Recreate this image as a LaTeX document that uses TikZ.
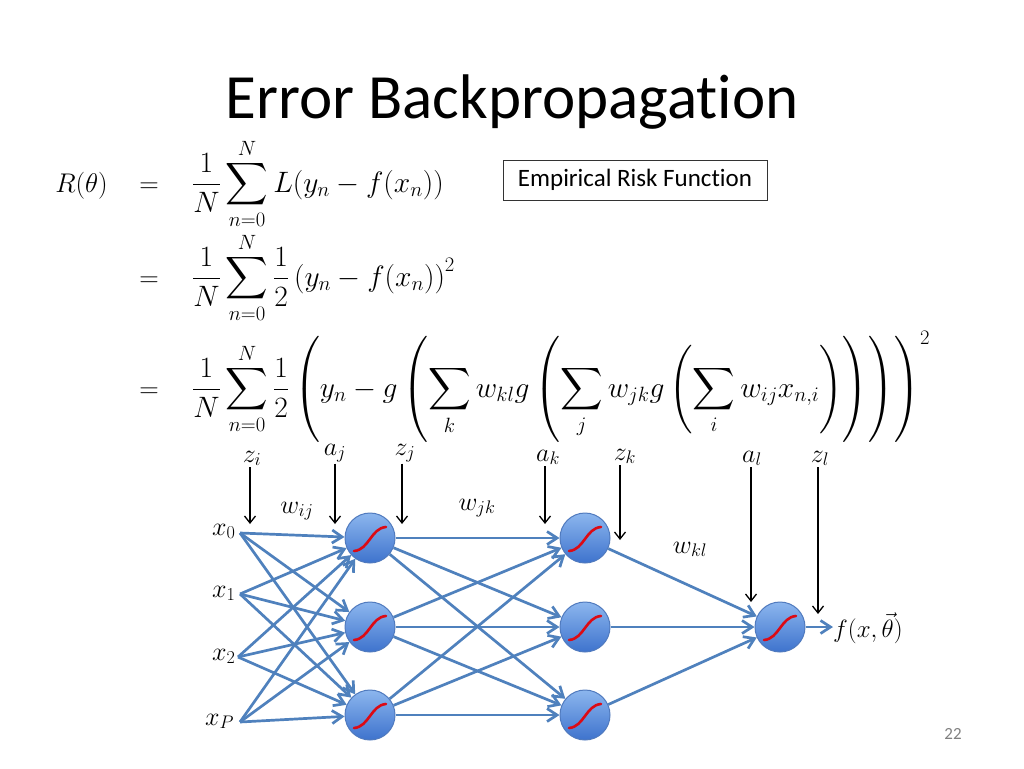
\RequirePackage{fix-cm}
\documentclass[tikz,border=0pt]{standalone}
\usepackage{amsmath}
\usepackage{fontspec}
\newfontfamily\calibri[Ligatures={NoCommon,NoContextual,NoRequired}]{Carlito}
\DeclareFontShape{OMX}{cmex}{m}{n}{<-> cmex10}{}
\usetikzlibrary{arrows.meta,calc}
\definecolor{nnblue}{RGB}{79,129,189}
\definecolor{balltop}{RGB}{140,182,238}
\definecolor{ballbot}{RGB}{62,115,205}
\definecolor{ballline}{RGB}{80,122,190}
\definecolor{sigred}{RGB}{220,10,20}
\tikzset{
  eq/.style={font=\fontsize{27}{32}\selectfont, inner sep=0},
  eqr/.style={font=\fontsize{29.5}{34}\selectfont, inner sep=0},
  lbl/.style={font=\fontsize{26}{30}\selectfont, inner sep=1},
  neuron/.style={circle, minimum size=50, inner sep=0, draw=ballline, line width=1,
    top color=balltop, bottom color=ballbot,
    path picture={\draw[sigred, line width=2.6, line cap=round]
      ($(path picture bounding box.center)+(-16,13)$) .. controls +(15,-1) and +(-15,1) ..
      ($(path picture bounding box.center)+(16,-11)$);}},
  conn/.style={nnblue, line width=2.7, -{Straight Barb[length=10,width=13]}},
  blk/.style={black, line width=1.3, -{Straight Barb[length=7,width=11]}},
}
\begin{document}
\begin{tikzpicture}[x=1pt,y=-1pt]
\useasboundingbox[fill=white] (0,0) rectangle (1024,768);
% title
\node[anchor=base, inner sep=0, font=\calibri\fontsize{63}{76}\selectfont] (title) at (512,118) {Error Backpropagation};
% equations
\node[eq, anchor=base east] (lhs) at (108,192) {$R(\theta)$};
\node[eq, anchor=base] (eq1) at (149,192) {$=$};
\node[eqr, anchor=base west] (rhs1) at (192,192) {$\displaystyle \frac{1}{N}\sum_{n=0}^{N} L(y_n - f(x_n))$};
\node[eq, anchor=base] (eq2) at (149,286) {$=$};
\node[eqr, anchor=base west] (rhs2) at (192,286) {$\displaystyle \frac{1}{N}\sum_{n=0}^{N} \frac{1}{2}\left(y_n - f(x_n)\right)^2$};
\node[eq, anchor=base] (eq3) at (149,397) {$=$};
\node[eqr, anchor=base west] (rhs3) at (192,397) {$\displaystyle \frac{1}{N}\sum_{n=0}^{N} \frac{1}{2}\left(y_n - g\left(\sum_k w_{kl} g\left(\sum_j w_{jk} g\left(\sum_i w_{ij} x_{n,i}\right)\right)\right)\right)^2$};
\node[draw=black!80, line width=1, minimum width=264, minimum height=40, inner sep=0,
  font=\calibri\fontsize{25}{30}\selectfont] (erf) at (635,180) {Empirical Risk Function};
% neurons
\node[neuron] (h1a) at (370,538) {};
\node[neuron] (h1b) at (370,627) {};
\node[neuron] (h1c) at (370,715) {};
\node[neuron] (h2a) at (585,538) {};
\node[neuron] (h2b) at (585,627) {};
\node[neuron] (h2c) at (585,715) {};
\node[neuron] (out) at (780,627) {};
% inputs
\node[lbl, anchor=base west, inner sep=0] (x0) at (212,535) {$x_0$};
\node[lbl, anchor=base west, inner sep=0] (x1) at (212,597) {$x_1$};
\node[lbl, anchor=base west, inner sep=0] (x2) at (212,660) {$x_2$};
\node[lbl, anchor=base west, inner sep=0] (x3) at (205,725) {$x_P$};
\coordinate (in0) at (240,533);
\coordinate (in1) at (240,594);
\coordinate (in2) at (238,657);
\coordinate (in3) at (240,722);
\foreach \i in {0,...,3}{\foreach \j in {a,b,c}{\draw[conn] (in\i) -- (h1\j);}}
\foreach \i in {a,b,c}{\foreach \j in {a,b,c}{\draw[conn] (h1\i) -- (h2\j);}}
\foreach \i in {a,b,c}{\draw[conn] (h2\i) -- (out);}
\node[lbl, anchor=base west, inner sep=0, font=\fontsize{25}{30}\selectfont] (flab) at (833,637) {$f(x,\vec{\theta})$};
\draw[conn] (out) -- (out -| flab.west);
% weights
\node[lbl, anchor=base] (wij) at (297,513) {$w_{ij}$};
\node[lbl, anchor=base] (wjk) at (477,510) {$w_{jk}$};
\node[lbl, anchor=base] (wkl) at (690,553) {$w_{kl}$};
% top labels and arrows
\node[lbl, anchor=base] (zi) at (252,462) {$z_i$};
\node[lbl, anchor=base] (aj) at (335,455) {$a_j$};
\node[lbl, anchor=base] (zj) at (405,455) {$z_j$};
\node[lbl, anchor=base] (ak) at (548,461) {$a_k$};
\node[lbl, anchor=base] (zk) at (625,460) {$z_k$};
\node[lbl, anchor=base] (al) at (752,462) {$a_l$};
\node[lbl, anchor=base] (zl) at (820,462) {$z_l$};
\coordinate (zit) at (250,524);
\coordinate (ajt) at (335,524);
\coordinate (zjt) at (402,524);
\coordinate (akt) at (545,524);
\coordinate (zkt) at (620,540);
\coordinate (alt) at (751,602);
\coordinate (zlt) at (818,614);
\draw[blk] (zit |- zi.south) -- (zit);
\draw[blk] (ajt |- aj.south) -- (ajt);
\draw[blk] (zjt |- zj.south) -- (zjt);
\draw[blk] (akt |- ak.south) -- (akt);
\draw[blk] (zkt |- zk.south) -- (zkt);
\draw[blk] (alt |- al.south) -- (alt);
\draw[blk] (zlt |- zl.south) -- (zlt);
% page number
\node[anchor=base, inner sep=0, text=gray, font=\calibri\fontsize{17}{20}\selectfont] (pg) at (953,739) {22};
\end{tikzpicture}
\end{document}
